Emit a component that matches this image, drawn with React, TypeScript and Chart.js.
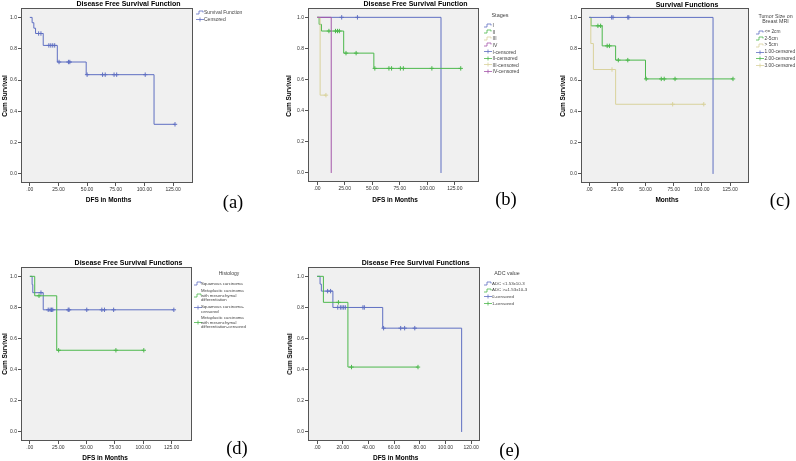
import React, { useEffect, useRef } from "react";
import { Chart, registerables } from "chart.js";
Chart.register(...registerables);

const SANS = '"Liberation Sans", Arial, sans-serif';
const SERIF = '"Liberation Serif", "Times New Roman", serif';

const BLUE = "#5f6fc2";
const GREEN = "#4cb84c";
const TAN = "#d9d29c";
const PURPLE = "#a457aa";

// ---------- shared tick labels ----------
const Y_TICKS = [0, 0.2, 0.4, 0.6, 0.8, 1.0];
const X_TICKS_25 = [0, 25, 50, 75, 100, 125];
const X_TICKS_20 = [0, 20, 40, 60, 80, 100, 120];

// ---------- (a) overall DFS ----------
const A_T = [0, 2.0, 3.5, 5.0, 11.7, 24.0, 49.2, 108.4, 126.7];
const A_S = [1, 0.966, 0.931, 0.897, 0.821, 0.715, 0.634, 0.317, 0.317];
const A_C = [7.7, 9.7, 16.6, 18.3, 20.0, 21.7, 25.5, 33.7, 34.9, 50.0, 63.5, 65.8, 73.5, 75.8, 100.7, 126.7];

// ---------- (b) stages ----------
const B1_T = [0, 112.5];
const B1_S = [1, 0];
const B1_C = [22.3, 36.6];
const B2_T = [0, 1.8, 3.9, 24.1, 51.5, 130.4];
const B2_S = [1, 0.955, 0.912, 0.77, 0.672, 0.672];
const B2_C = [10.7, 16.7, 18.5, 20.2, 26.2, 35.4, 52.4, 65.2, 67.6, 75.6, 78.3, 104.2, 130.4];
const B3_T = [0, 2.7, 8.0];
const B3_S = [1, 0.5, 0.5];
const B3_C = [8.0];
const B4_T = [0, 12.8];
const B4_S = [1, 0];
const B4_C: number[] = [];

// ---------- (c) tumour size ----------
const C1_T = [0, 109.9];
const C1_S = [1, 0];
const C1_C = [20.0, 21.2, 34.3, 35.2];
const C2_T = [0, 1.7, 11.6, 23.5, 50.0, 127.6];
const C2_S = [1, 0.946, 0.818, 0.727, 0.607, 0.607];
const C2_C = [7.8, 10.2, 16.0, 18.0, 25.9, 34.3, 50.6, 64.0, 66.6, 76.2, 127.6];
const C3_T = [0, 1.5, 3.8, 23.5, 101.7];
const C3_S = [1, 0.833, 0.667, 0.445, 0.445];
const C3_C = [20.3, 74.1, 101.7];

// ---------- (d) histology ----------
const D1_T = [0, 2.0, 2.6, 11.8, 127.0];
const D1_S = [1, 0.947, 0.895, 0.785, 0.785];
const D1_C = [9.8, 16.2, 17.9, 19.1, 20.2, 33.8, 34.6, 50.2, 63.5, 65.8, 73.9, 127.0];
const D2_T = [0, 4.3, 23.7, 100.5];
const D2_S = [1, 0.875, 0.525, 0.525];
const D2_C = [8.1, 25.4, 75.9, 100.5];

// ---------- (e) ADC ----------
const E1_T = [0, 2.3, 3.3, 12.3, 51.1, 112.6];
const E1_S = [1, 0.95, 0.905, 0.8, 0.667, 0];
const E1_C = [8.2, 10.5, 16.1, 18.1, 19.4, 20.7, 22.0, 35.7, 36.8, 51.8, 65.1, 68.2, 76.1];
const E2_T = [0, 4.9, 24.0, 78.6];
const E2_S = [1, 0.833, 0.417, 0.417];
const E2_C = [16.6, 26.8, 78.6];

type Curve = { t: number[]; s: number[]; c: number[]; color: string; order: number };
type Panel = {
  plot: [number, number, number, number];
  xMin: number;
  xMax: number;
  xTicks: number[];
  curves: Curve[];
};

const Y_MIN = -0.058;
const Y_MAX = 1.06;

const PANELS: Panel[] = [
  {
    plot: [21, 8, 196, 183], xMin: -7.7, xMax: 142.4, xTicks: X_TICKS_25,
    curves: [{ t: A_T, s: A_S, c: A_C, color: BLUE, order: 1 }],
  },
  {
    plot: [308, 8, 482, 182], xMin: -8.3, xMax: 147, xTicks: X_TICKS_25,
    curves: [
      { t: B4_T, s: B4_S, c: B4_C, color: PURPLE, order: 1 },
      { t: B3_T, s: B3_S, c: B3_C, color: TAN, order: 2 },
      { t: B2_T, s: B2_S, c: B2_C, color: GREEN, order: 3 },
      { t: B1_T, s: B1_S, c: B1_C, color: BLUE, order: 4 },
    ],
  },
  {
    plot: [581, 8, 752, 183], xMin: -7.2, xMax: 141.8, xTicks: X_TICKS_25,
    curves: [
      { t: C1_T, s: C1_S, c: C1_C, color: BLUE, order: 1 },
      { t: C3_T, s: C3_S, c: C3_C, color: TAN, order: 2 },
      { t: C2_T, s: C2_S, c: C2_C, color: GREEN, order: 3 },
    ],
  },
  {
    plot: [21, 267, 195, 441], xMin: -7.8, xMax: 143, xTicks: X_TICKS_25,
    curves: [
      { t: D2_T, s: D2_S, c: D2_C, color: GREEN, order: 1 },
      { t: D1_T, s: D1_S, c: D1_C, color: BLUE, order: 2 },
    ],
  },
  {
    plot: [308, 267, 483, 441], xMin: -7.1, xMax: 126.9, xTicks: X_TICKS_20,
    curves: [
      { t: E2_T, s: E2_S, c: E2_C, color: GREEN, order: 1 },
      { t: E1_T, s: E1_S, c: E1_C, color: BLUE, order: 2 },
    ],
  },
];

function stepAt(t: number[], s: number[], x: number) {
  let v = s[0];
  for (let i = 0; i < t.length; i++) if (t[i] <= x) v = s[i];
  return v;
}

const fmtX = (v: number) => v.toFixed(2).replace(/^0\./, ".");
const fmtY = (v: number) => v.toFixed(1);

const YW = 16;
const XH = 14;
const PT = 6;
const PR = 2;

const framePlugin = {
  id: "spssFrame",
  beforeDatasetsDraw(chart: any) {
    const { ctx, chartArea: a } = chart;
    ctx.save();
    ctx.fillStyle = "#f0f0f0";
    ctx.fillRect(a.left, a.top, a.right - a.left, a.bottom - a.top);
    ctx.restore();
  },
  afterDraw(chart: any) {
    const { ctx, chartArea: a } = chart;
    ctx.save();
    ctx.strokeStyle = "#555";
    ctx.lineWidth = 1;
    ctx.strokeRect(a.left + 0.5, a.top + 0.5, a.right - a.left - 1, a.bottom - a.top - 1);
    ctx.restore();
  },
};

function KM({ p }: { p: Panel }) {
  const ref = useRef<HTMLCanvasElement>(null);
  const [l, t, r, b] = p.plot;
  const w = r - l + YW + PR;
  const h = b - t + PT + XH;
  useEffect(() => {
    const datasets: any[] = [];
    p.curves.forEach((c) => {
      datasets.push({
        data: c.c.map((x) => ({ x, y: stepAt(c.t, c.s, x) })),
        showLine: false,
        borderColor: c.color,
        backgroundColor: c.color,
        pointStyle: "cross",
        pointRadius: 2.2,
        pointBorderWidth: 1,
        order: c.order * 2 - 1,
      });
      datasets.push({
        data: c.t.map((x, i) => ({ x, y: c.s[i] })),
        borderColor: c.color,
        borderWidth: 1,
        stepped: "before",
        pointRadius: 0,
        fill: false,
        order: c.order * 2,
      });
    });
    const tickFont = { family: SANS, size: 5 };
    const chart = new Chart(ref.current!, {
      type: "line",
      data: { datasets },
      plugins: [framePlugin],
      options: {
        animation: false,
        responsive: false,
        devicePixelRatio: 1,
        layout: { padding: { top: PT, right: PR, left: 0, bottom: 0 } },
        plugins: { legend: { display: false }, tooltip: { enabled: false }, title: { display: false } },
        scales: {
          x: {
            type: "linear",
            min: p.xMin,
            max: p.xMax,
            afterBuildTicks: (s: any) => {
              s.ticks = p.xTicks.map((v) => ({ value: v }));
            },
            afterFit: (s: any) => {
              s.height = XH;
            },
            ticks: { font: tickFont, color: "#333", padding: 1, maxRotation: 0, autoSkip: false, callback: (v: any) => fmtX(Number(v)) },
            grid: { drawOnChartArea: false, drawTicks: true, tickLength: 3, color: "#555" },
            border: { display: false },
          },
          y: {
            type: "linear",
            min: Y_MIN,
            max: Y_MAX,
            afterBuildTicks: (s: any) => {
              s.ticks = Y_TICKS.map((v) => ({ value: v }));
            },
            afterFit: (s: any) => {
              s.width = YW;
            },
            ticks: { font: tickFont, color: "#333", padding: 1, autoSkip: false, callback: (v: any) => fmtY(Number(v)) },
            grid: { drawOnChartArea: false, drawTicks: true, tickLength: 3, color: "#555" },
            border: { display: false },
          },
        },
      } as any,
    });
    return () => chart.destroy();
  }, []);
  return (
    <canvas
      ref={ref}
      width={w}
      height={h}
      style={{ position: "absolute", left: l - YW, top: t - PT, width: w, height: h }}
    />
  );
}

type TP = { x: number; y: number; size: number; bold?: boolean; center?: boolean; color?: string; font?: string; children: any };
function Tx({ x, y, size, bold, center, color, font, children }: TP) {
  const lh = size * 1.2;
  return (
    <div
      style={{
        position: "absolute",
        left: x,
        top: y - lh / 2,
        lineHeight: lh + "px",
        fontSize: size,
        fontFamily: font || SANS,
        fontWeight: bold ? 700 : 400,
        color: color || "#000",
        whiteSpace: "nowrap",
        transform: center ? "translateX(-50%)" : undefined,
      }}
    >
      {children}
    </div>
  );
}

function YLabel({ x, y, text }: { x: number; y: number; text: string }) {
  return (
    <div
      style={{
        position: "absolute",
        left: x,
        top: y,
        fontSize: 6.5,
        fontWeight: 700,
        fontFamily: SANS,
        whiteSpace: "nowrap",
        lineHeight: "8px",
        transform: "translate(-50%, -50%) rotate(-90deg)",
      }}
    >
      {text}
    </div>
  );
}

function StepIcon({ x, y, color }: { x: number; y: number; color: string }) {
  return (
    <svg style={{ position: "absolute", left: x, top: y - 2.5 }} width={9} height={5}>
      <path d="M0,4 H3 V1 H7 V2.5" stroke={color} strokeWidth={0.8} fill="none" />
    </svg>
  );
}
function CensIcon({ x, y, color }: { x: number; y: number; color: string }) {
  return (
    <svg style={{ position: "absolute", left: x, top: y - 2.5 }} width={9} height={5}>
      <path d="M0,2.5 H8 M4,0.5 V4.5" stroke={color} strokeWidth={0.8} fill="none" />
    </svg>
  );
}

const LEG = "#444";
const TAG = 18.5;

export default function App() {
  return (
    <div style={{ position: "absolute", left: 0, top: 0, width: 796, height: 461, background: "#fff", overflow: "hidden" }}>
      {PANELS.map((p, i) => (
        <KM key={i} p={p} />
      ))}

      {/* (a) */}
      <Tx x={128.5} y={4} size={7} bold center>Disease Free Survival Function</Tx>
      <Tx x={108.5} y={200} size={6.5} bold center>DFS in Months</Tx>
      <YLabel x={4.5} y={96} text="Cum Survival" />
      <StepIcon x={196} y={12.3} color={BLUE} />
      <Tx x={204} y={12.3} size={5} color={LEG}>Survival Function</Tx>
      <CensIcon x={196} y={19} color={BLUE} />
      <Tx x={204} y={19} size={5} color={LEG}>Censored</Tx>
      <Tx x={233} y={202.5} size={TAG} font={SERIF} center>(a)</Tx>

      {/* (b) */}
      <Tx x={415.5} y={4.3} size={7} bold center>Disease Free Survival Function</Tx>
      <Tx x={395} y={200} size={6.5} bold center>DFS in Months</Tx>
      <YLabel x={289} y={96} text="Cum Survival" />
      <Tx x={500} y={15.5} size={5.5} center color={LEG}>Stages</Tx>
      <StepIcon x={484} y={25} color={BLUE} />
      <Tx x={492.5} y={25} size={5} color={LEG}>I</Tx>
      <StepIcon x={484} y={31.5} color={GREEN} />
      <Tx x={492.5} y={31.5} size={5} color={LEG}>II</Tx>
      <StepIcon x={484} y={38} color={TAN} />
      <Tx x={492.5} y={38} size={5} color={LEG}>III</Tx>
      <StepIcon x={484} y={44.5} color={PURPLE} />
      <Tx x={492.5} y={44.5} size={5} color={LEG}>IV</Tx>
      <CensIcon x={484} y={51.5} color={BLUE} />
      <Tx x={492.5} y={51.5} size={5} color={LEG}>I-censored</Tx>
      <CensIcon x={484} y={58} color={GREEN} />
      <Tx x={492.5} y={58} size={5} color={LEG}>II-censored</Tx>
      <CensIcon x={484} y={64.5} color={TAN} />
      <Tx x={492.5} y={64.5} size={5} color={LEG}>III-censored</Tx>
      <CensIcon x={484} y={71} color={PURPLE} />
      <Tx x={492.5} y={71} size={5} color={LEG}>IV-censored</Tx>
      <Tx x={506} y={199.5} size={TAG} font={SERIF} center>(b)</Tx>

      {/* (c) */}
      <Tx x={687} y={4.7} size={7} bold center>Survival Functions</Tx>
      <Tx x={667} y={200} size={6.5} bold center>Months</Tx>
      <YLabel x={563} y={96} text="Cum Survival" />
      <Tx x={775.5} y={15.7} size={5.3} center color={LEG}>Tumor Size on</Tx>
      <Tx x={775.5} y={20.9} size={5.3} center color={LEG}>Breast MRI</Tx>
      <StepIcon x={756} y={32.3} color={BLUE} />
      <Tx x={764.5} y={32.3} size={4.8} color={LEG}>{"<= 2cm"}</Tx>
      <StepIcon x={756} y={38.9} color={GREEN} />
      <Tx x={764.5} y={38.9} size={4.8} color={LEG}>2-5cm</Tx>
      <StepIcon x={756} y={45.3} color={TAN} />
      <Tx x={764.5} y={45.3} size={4.8} color={LEG}>{"> 5cm"}</Tx>
      <CensIcon x={756} y={52.2} color={BLUE} />
      <Tx x={764.5} y={52.2} size={4.8} color={LEG}>1.00-censored</Tx>
      <CensIcon x={756} y={58.8} color={GREEN} />
      <Tx x={764.5} y={58.8} size={4.8} color={LEG}>2.00-censored</Tx>
      <CensIcon x={756} y={65.4} color={TAN} />
      <Tx x={764.5} y={65.4} size={4.8} color={LEG}>3.00-censored</Tx>
      <Tx x={780} y={200} size={TAG} font={SERIF} center>(c)</Tx>

      {/* (d) */}
      <Tx x={128.5} y={262.7} size={7} bold center>Disease Free Survival Functions</Tx>
      <Tx x={105} y={458.3} size={6.5} bold center>DFS in Months</Tx>
      <YLabel x={4.5} y={354} text="Cum Survival" />
      <Tx x={229} y={273.3} size={5} center color={LEG}>Histology</Tx>
      <StepIcon x={194} y={283.3} color={BLUE} />
      <Tx x={201} y={283.3} size={4.3} color={LEG}>Squamous carcinoma</Tx>
      <StepIcon x={194} y={295.3} color={GREEN} />
      <Tx x={201} y={290.9} size={4.3} color={LEG}>Metaplastic carcinoma</Tx>
      <Tx x={201} y={295.3} size={4.3} color={LEG}>with mesenchymal</Tx>
      <Tx x={201} y={299.7} size={4.3} color={LEG}>differentiation</Tx>
      <CensIcon x={194} y={307.5} color={BLUE} />
      <Tx x={201} y={306.7} size={4.3} color={LEG}>Squamous carcinoma-</Tx>
      <Tx x={201} y={311.1} size={4.3} color={LEG}>censored</Tx>
      <CensIcon x={194} y={322.3} color={GREEN} />
      <Tx x={201} y={317.7} size={4.3} color={LEG}>Metaplastic carcinoma</Tx>
      <Tx x={201} y={322.3} size={4.3} color={LEG}>with mesenchymal</Tx>
      <Tx x={201} y={326.9} size={4.3} color={LEG}>differentiation-censored</Tx>
      <Tx x={237} y={448.3} size={TAG} font={SERIF} center>(d)</Tx>

      {/* (e) */}
      <Tx x={415.7} y={262.7} size={7} bold center>Disease Free Survival Functions</Tx>
      <Tx x={395.7} y={458.2} size={6.5} bold center>DFS in Months</Tx>
      <YLabel x={290} y={354} text="Cum Survival" />
      <Tx x={507} y={273.3} size={5.3} center color={LEG}>ADC value</Tx>
      <StepIcon x={483.5} y={283.3} color={BLUE} />
      <Tx x={492} y={283.3} size={4.4} color={LEG}>{"ADC <1.53x10-3"}</Tx>
      <StepIcon x={483.5} y={290} color={GREEN} />
      <Tx x={492} y={290} size={4.4} color={LEG}>{"ADC >=1.53x10-3"}</Tx>
      <CensIcon x={483.5} y={296.7} color={BLUE} />
      <Tx x={492} y={296.7} size={4.4} color={LEG}>0-censored</Tx>
      <CensIcon x={483.5} y={303.3} color={GREEN} />
      <Tx x={492} y={303.3} size={4.4} color={LEG}>1-censored</Tx>
      <Tx x={509.5} y={450.5} size={TAG} font={SERIF} center>(e)</Tx>
    </div>
  );
}
